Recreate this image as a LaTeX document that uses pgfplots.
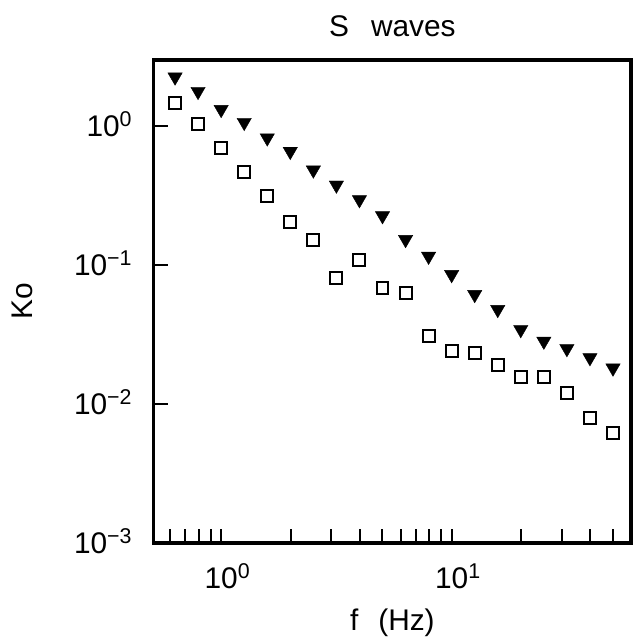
\documentclass[border=0pt]{standalone}
\usepackage{fontspec}
\setmainfont{Liberation Sans}
\usepackage{pgfplots}
\pgfplotsset{compat=1.18}
\usetikzlibrary{calc}
\newcommand{\bigf}{\fontsize{30}{35}\selectfont}
\newcommand{\ex}[1]{\raisebox{10bp}{\fontsize{21.5}{21.5}\selectfont #1}}
\pgfplotstableread{
f K
0.631 2.26
0.794 1.78
1.000 1.32
1.259 1.065
1.585 0.824
1.995 0.659
2.512 0.484
3.162 0.377
3.981 0.296
5.012 0.227
6.310 0.153
7.943 0.116
10.00 0.0856
12.59 0.0615
15.85 0.0480
19.95 0.0344
25.12 0.0284
31.62 0.0251
39.81 0.0216
50.12 0.0182
}\tri
\pgfplotstableread{
f K
0.631 1.47
0.794 1.03
1.000 0.699
1.259 0.470
1.585 0.316
1.995 0.205
2.512 0.151
3.162 0.0807
3.981 0.1097
5.012 0.0691
6.310 0.0636
7.943 0.0311
10.00 0.0243
12.59 0.0233
15.85 0.0192
19.95 0.0156
25.12 0.0156
31.62 0.0120
39.81 0.00798
50.12 0.00622
}\sq
\begin{document}
\begin{tikzpicture}
\begin{axis}[
  scale only axis, width=478bp, height=484bp,
  xmode=log, ymode=log,
  xmin=0.51, xmax=60, ymin=1e-3, ymax=3,
  axis line style={line width=3.4bp},
  tick align=inside, xtick pos=bottom, ytick pos=left,
  xtick={1,10}, xticklabels={10\rlap{\ex{0}}, 10\rlap{\ex{1}}},
  minor xtick={0.6,0.7,0.8,0.9,2,3,4,5,6,7,8,9,20,30,40,50},
  ytick={0.001,0.01,0.1,1},
  yticklabels={10\ex{−3},10\ex{−2},10\ex{−1},10\ex{0}},
  yminorticks=false, ymajorticks=true,
  major tick length=14bp, minor tick length=14bp,
  every tick/.style={black, line width=2bp},
  major tick style={black, line width=2bp},
  minor tick style={black, line width=2bp},
  every major tick/.append style={line width=2bp},
  every major y tick/.append style={line width=2bp},
  xticklabel style={font=\bigf, anchor=base, inner sep=0pt, yshift=-45bp},
  yticklabel style={font=\bigf, anchor=base east, inner sep=0pt, xshift=-22bp, yshift=-10.5bp},
  title={S\hspace{22bp}waves},
  every axis title/.style={font=\bigf, at={(rel axis cs:0.5,1)}, anchor=base, yshift=23bp, inner sep=0pt},
  xlabel={f\hspace{20bp}(Hz)},
  every axis x label/.style={font=\bigf, at={(rel axis cs:0.5,0)}, anchor=base, yshift=-87bp, inner sep=0pt},
  ylabel={Ko},
  every axis y label/.style={font=\bigf, at={(rel axis cs:0,0.5)}, xshift=-132bp, rotate=90, anchor=center, inner sep=0pt},
  clip=false,
]
\addplot[only marks, mark=triangle*, mark size=8.3bp, mark options={rotate=180, fill=black, draw=black}] table[x=f, y=K] {\tri};
\addplot[only marks, mark=square, mark size=6bp, mark options={line width=2bp, draw=black}] table[x=f, y=K] {\sq};
\end{axis}
\pgfresetboundingbox
\path[use as bounding box] ($(current axis.south west)+(-154bp,-97bp)$) rectangle ($(current axis.north east)+(1bp,60bp)$);
\end{tikzpicture}
\end{document}
